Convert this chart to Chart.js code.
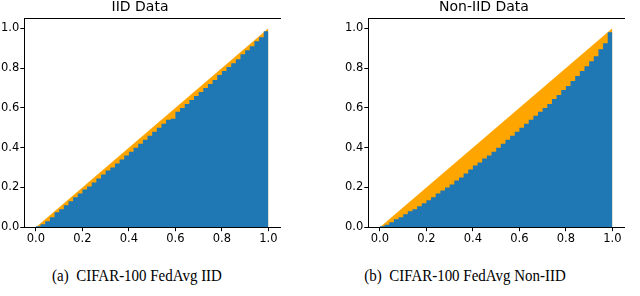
<!DOCTYPE html>
<html>
<head>
<meta charset="utf-8">
<script src="https://cdn.jsdelivr.net/npm/chart.js@4.4.1/dist/chart.umd.min.js"></script>
<style>
  html, body { margin:0; padding:0; background:#fff; }
  body { width:640px; height:296px; position:relative; overflow:hidden; }
  .panel { position:absolute; top:0; width:300px; height:250px; }
  .cap { position:absolute; top:266px; font-family:"Liberation Serif","Times New Roman",serif; font-size:17px; line-height:20px; color:#000; white-space:nowrap; transform:translateX(-50%) scaleX(0.88); }
</style>
</head>
<body>
<div class="panel" style="left:0px"><canvas id="c1" width="300" height="250"></canvas></div>
<div class="panel" style="left:344px"><canvas id="c2" width="300" height="250"></canvas></div>
<div class="cap" style="left:137px">(a)&nbsp; CIFAR-100 FedAvg IID</div>
<div class="cap" style="left:465px">(b)&nbsp; CIFAR-100 FedAvg Non-IID</div>
<script>
// ---- data ----
const panelTitles = ["IID Data", "Non-IID Data"];
const binEdges = [0.00,0.02,0.04,0.06,0.08,0.10,0.12,0.14,0.16,0.18,
                  0.20,0.22,0.24,0.26,0.28,0.30,0.32,0.34,0.36,0.38,
                  0.40,0.42,0.44,0.46,0.48,0.50,0.52,0.54,0.56,0.58,
                  0.60,0.62,0.64,0.66,0.68,0.70,0.72,0.74,0.76,0.78,
                  0.80,0.82,0.84,0.86,0.88,0.90,0.92,0.94,0.96,0.98,1.00];
// accuracy per bin (blue)
const accIID = [0.005,0.015,0.030,0.050,0.075,0.090,0.110,0.130,0.150,0.170,
                0.190,0.205,0.225,0.245,0.265,0.285,0.300,0.320,0.340,0.360,
                0.380,0.400,0.420,0.440,0.460,0.480,0.500,0.520,0.540,0.545,
                0.580,0.600,0.620,0.640,0.660,0.680,0.700,0.720,0.740,0.765,
                0.785,0.805,0.825,0.845,0.870,0.890,0.910,0.935,0.955,0.985];
const accNonIID = [0.005,0.012,0.025,0.040,0.050,0.065,0.080,0.090,0.105,0.120,
                   0.135,0.150,0.170,0.185,0.200,0.215,0.235,0.250,0.270,0.290,
                   0.310,0.325,0.345,0.360,0.380,0.400,0.420,0.440,0.460,0.480,
                   0.500,0.520,0.540,0.560,0.580,0.600,0.620,0.645,0.665,0.690,
                   0.710,0.735,0.760,0.785,0.810,0.835,0.860,0.895,0.925,0.980];
// expected confidence (orange diagonal)
const confX = [0.0, 1.0];
const confY = [0.0, 1.0];
const xTickValues = [0.0, 0.2, 0.4, 0.6, 0.8, 1.0];
const yTickValues = [0.0, 0.2, 0.4, 0.6, 0.8, 1.0];
const xRange = [-0.05, 1.05];
const yRange = [0.0, 1.05];

const BLUE = "#1f77b4", ORANGE = "#ffa500";
const tickFont = { family: "'DejaVu Sans', sans-serif", size: 11.5 };

function histPoints(vals) {
  const pts = binEdges.slice(0, vals.length).map((e, i) => ({ x: e, y: vals[i] }));
  pts.push({ x: binEdges[vals.length], y: vals[vals.length - 1] });
  return pts;
}

function makeChart(id, title, acc) {
  new Chart(document.getElementById(id), {
    type: "line",
    data: {
      datasets: [
        { data: histPoints(acc), stepped: "before", fill: "origin",
          backgroundColor: BLUE, borderColor: "rgba(0,0,0,0)", borderWidth: 0,
          pointRadius: 0, tension: 0 },
        { data: confX.map((x, i) => ({ x: x, y: confY[i] })), fill: "origin",
          backgroundColor: ORANGE, borderColor: "rgba(0,0,0,0)", borderWidth: 0,
          pointRadius: 0, tension: 0 }
      ]
    },
    options: {
      responsive: false, animation: false, devicePixelRatio: 1,
      layout: { padding: { left: 0, right: 20, top: 0, bottom: 3 } },
      plugins: {
        legend: { display: false }, tooltip: { enabled: false },
        title: { display: true, text: title, color: "#000",
                 font: { family: "'DejaVu Sans', sans-serif", size: 14, weight: "normal", lineHeight: 1.1 },
                 padding: { top: 0, bottom: 3 } }
      },
      scales: {
        x: { type: "linear", min: xRange[0], max: xRange[1],
             afterBuildTicks: s => { s.ticks = xTickValues.map(v => ({ value: v })); },
             ticks: { color: "#000", font: tickFont, padding: 1, maxRotation: 0,
                      callback: v => v.toFixed(1) },
             grid: { drawOnChartArea: false, drawTicks: true, tickLength: 4, tickColor: "#000" },
             border: { display: true, color: "#000", width: 1 } },
        xTop: { type: "linear", position: "top", min: xRange[0], max: xRange[1],
                ticks: { display: false },
                grid: { drawOnChartArea: false, drawTicks: false },
                border: { display: true, color: "#000", width: 1 } },
        y: { type: "linear", min: yRange[0], max: yRange[1],
             afterBuildTicks: s => { s.ticks = yTickValues.map(v => ({ value: v })); },
             ticks: { color: "#000", font: tickFont, padding: 1,
                      callback: v => v.toFixed(1) },
             grid: { drawOnChartArea: false, drawTicks: true, tickLength: 4, tickColor: "#000" },
             border: { display: true, color: "#000", width: 1 } }
      }
    }
  });
}

makeChart("c1", panelTitles[0], accIID);
makeChart("c2", panelTitles[1], accNonIID);
</script>
</body>
</html>
